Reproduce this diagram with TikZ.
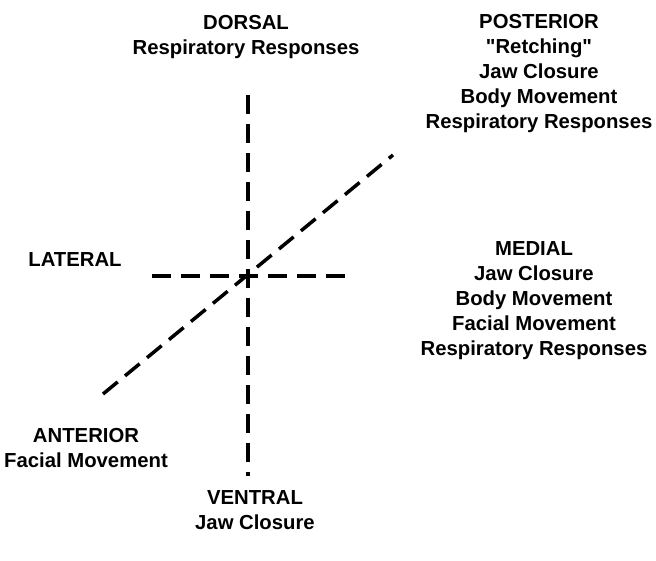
\documentclass[tikz,border=0pt]{standalone}
\usepackage{fontspec}
\setmainfont{Liberation Sans}
\begin{document}
\begin{tikzpicture}[x=1pt,y=-1pt,
  axis/.style={line width=3.5pt,dash pattern=on 19pt off 10pt},
  diag/.style={line width=3.5pt,dash pattern=on 19pt off 9.5pt},
  lbl/.style={inner sep=0pt,align=center,anchor=base,
    font=\fontsize{20.3}{25}\selectfont\bfseries}]
\useasboundingbox (0,0) rectangle (656,560);
% axis end points
\coordinate (top) at (248,95);
\coordinate (bottom) at (248,476);
\coordinate (left) at (152,276);
\coordinate (right) at (347,276);
\coordinate (ant) at (103,394);
\coordinate (post) at (393,155);
% dashed axes
\draw[axis] (top) -- (bottom);
\draw[axis] (left) -- (right);
\draw[diag] (ant) -- (post);
% direction labels (node base = baseline of the last line)
\node[lbl] (dorsal) at (246,54) {DORSAL\\Respiratory Responses};
\node[lbl] (posterior) at (539,128) {POSTERIOR\\\textquotedbl Retching\textquotedbl\\Jaw Closure\\Body Movement\\Respiratory Responses};
\node[lbl] (medial) at (534,355) {MEDIAL\\Jaw Closure\\Body Movement\\Facial Movement\\Respiratory Responses};
\node[lbl] (lateral) at (75,266) {LATERAL};
\node[lbl] (anterior) at (86,467) {ANTERIOR\\Facial Movement};
\node[lbl] (ventral) at (255,529) {VENTRAL\\Jaw Closure};
\end{tikzpicture}
\end{document}
